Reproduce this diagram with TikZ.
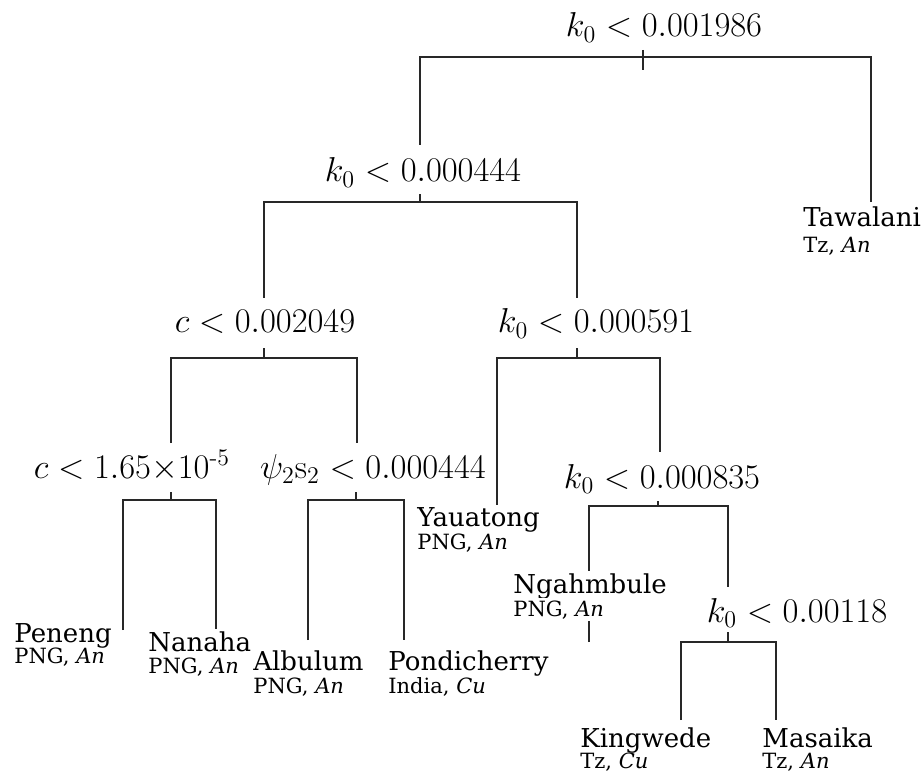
\documentclass[tikz,border=0pt]{standalone}
\usepackage{amsmath}
\usepackage{fontspec}
\newfontfamily\leaffont{DejaVu Serif}
\usetikzlibrary{positioning}
\definecolor{treeline}{RGB}{40,40,40}

\begin{document}
\begin{tikzpicture}[x=0.5pt, y=-0.5pt,
    split/.style={font=\fontsize{17}{20}\selectfont, anchor=base, inner sep=0pt},
    leaf/.style={font=\leaffont\fontsize{13}{16}\selectfont, anchor=base west, inner sep=1pt, fill=white},
    origin/.style={font=\leaffont\fontsize{10.5}{13}\selectfont, anchor=base west, inner sep=1pt},
    branch/.style={draw=treeline, line width=1.15pt}]
\useasboundingbox (0,0) rectangle (924,774);

% Split labels
\node[split] (cut1) at (664,37) {$k_0 < 0.001986$};
\node[split] (cut2) at (423,182) {$k_0 < 0.000444$};
\node[split] (cut3) at (265,333) {$c < 0.002049$};
\node[split] (cut4) at (596,333) {$k_0 < 0.000591$};
\node[split] (cut5) at (132,478) {$c < 1.65{\times}10^{\text{-5}}$};
\node[split] (cut6) at (373,478) {$\psi_2\mathrm{s}_2 < 0.000444$};
\node[split] (cut7) at (662,488) {$k_0 < 0.000835$};
\node[split] (cut8) at (797,622) {$k_0 < 0.00118$};

% Junctions and branch ends
\coordinate (j1) at (643,57);
\coordinate (j2) at (420,202);
\coordinate (j3) at (264,358);
\coordinate (j4) at (577,358);
\coordinate (j5) at (171,500);
\coordinate (j6) at (356,500);
\coordinate (j7) at (658,506);
\coordinate (j8) at (728,642);
\coordinate (top2) at (420,145);
\coordinate (top3) at (264,298);
\coordinate (top4) at (577,298);
\coordinate (top5) at (171,443);
\coordinate (top6) at (357,443);
\coordinate (top7) at (660,452);
\coordinate (top8) at (728,587);
\coordinate (tawtop) at (871,202);
\coordinate (pentop) at (123,630);
\coordinate (nantop) at (216,630);
\coordinate (albtop) at (308,640);
\coordinate (pontop) at (404,640);
\coordinate (yautop) at (497,507);
\coordinate (ngatop) at (589,642);
\coordinate (kintop) at (681,720);
\coordinate (masatop) at (776,720);

% Branches
\draw[branch] (top2) |- (j1) -| (tawtop);
\draw[branch] (top3) |- (j2) -| (top4);
\draw[branch] (top5) |- (j3) -| (top6);
\draw[branch] (yautop) |- (j4) -| (top7);
\draw[branch] (pentop) |- (j5) -| (nantop);
\draw[branch] (albtop) |- (j6) -| (pontop);
\draw[branch] (ngatop) |- (j7) -| (top8);
\draw[branch] (kintop) |- (j8) -| (masatop);

% Ticks under the split labels
\draw[branch] ([yshift=3.5pt]j1) -- ([yshift=-6.5pt]j1);
\draw[branch] (j2) -- ++(0,-8);
\draw[branch] (j3) -- ++(0,-10);
\draw[branch] (j4) -- ++(0,-10);
\draw[branch] (j5) -- ++(0,-8);
\draw[branch] (j6) -- ++(0,-8);
\draw[branch] (j7) -- ++(0,-5);
\draw[branch] (j8) -- ++(0,-10);

% Leaves
\node[leaf] (tawalani) at (801,227) {Tawalani};
\node[origin] at ([yshift=-13pt]tawalani.base west) {Tz, \textit{An}};
\node[leaf] (peneng) at (12,642) {Peneng};
\node[origin] at ([yshift=-10.5pt]peneng.base west) {PNG, \textit{An}};
\node[leaf] (nanaha) at (146,651) {Nanaha};
\node[origin] at ([yshift=-11pt]nanaha.base west) {PNG, \textit{An}};
\node[leaf] (albulum) at (251,670) {Albulum};
\node[origin] at ([yshift=-11.5pt]albulum.base west) {PNG, \textit{An}};
\node[leaf] (pondicherry) at (386,670) {Pondicherry};
\node[origin] at ([yshift=-11.5pt]pondicherry.base west) {India, \textit{Cu}};
\node[leaf] (yauatong) at (415,526) {Yauatong};
\node[origin] at ([yshift=-11.5pt]yauatong.base west) {PNG, \textit{An}};
\node[leaf] (ngahmbule) at (511,593) {Ngahmbule};
\node[origin, fill=white] at ([yshift=-11.5pt]ngahmbule.base west) {PNG, \textit{An}};
\node[leaf] (kingwede) at (578,747) {Kingwede};
\node[origin] at ([yshift=-10.5pt]kingwede.base west) {Tz, \textit{Cu}};
\node[leaf] (masaika) at (760,747) {Masaika};
\node[origin] at ([yshift=-10.5pt]masaika.base west) {Tz, \textit{An}};
\end{tikzpicture}
\end{document}
